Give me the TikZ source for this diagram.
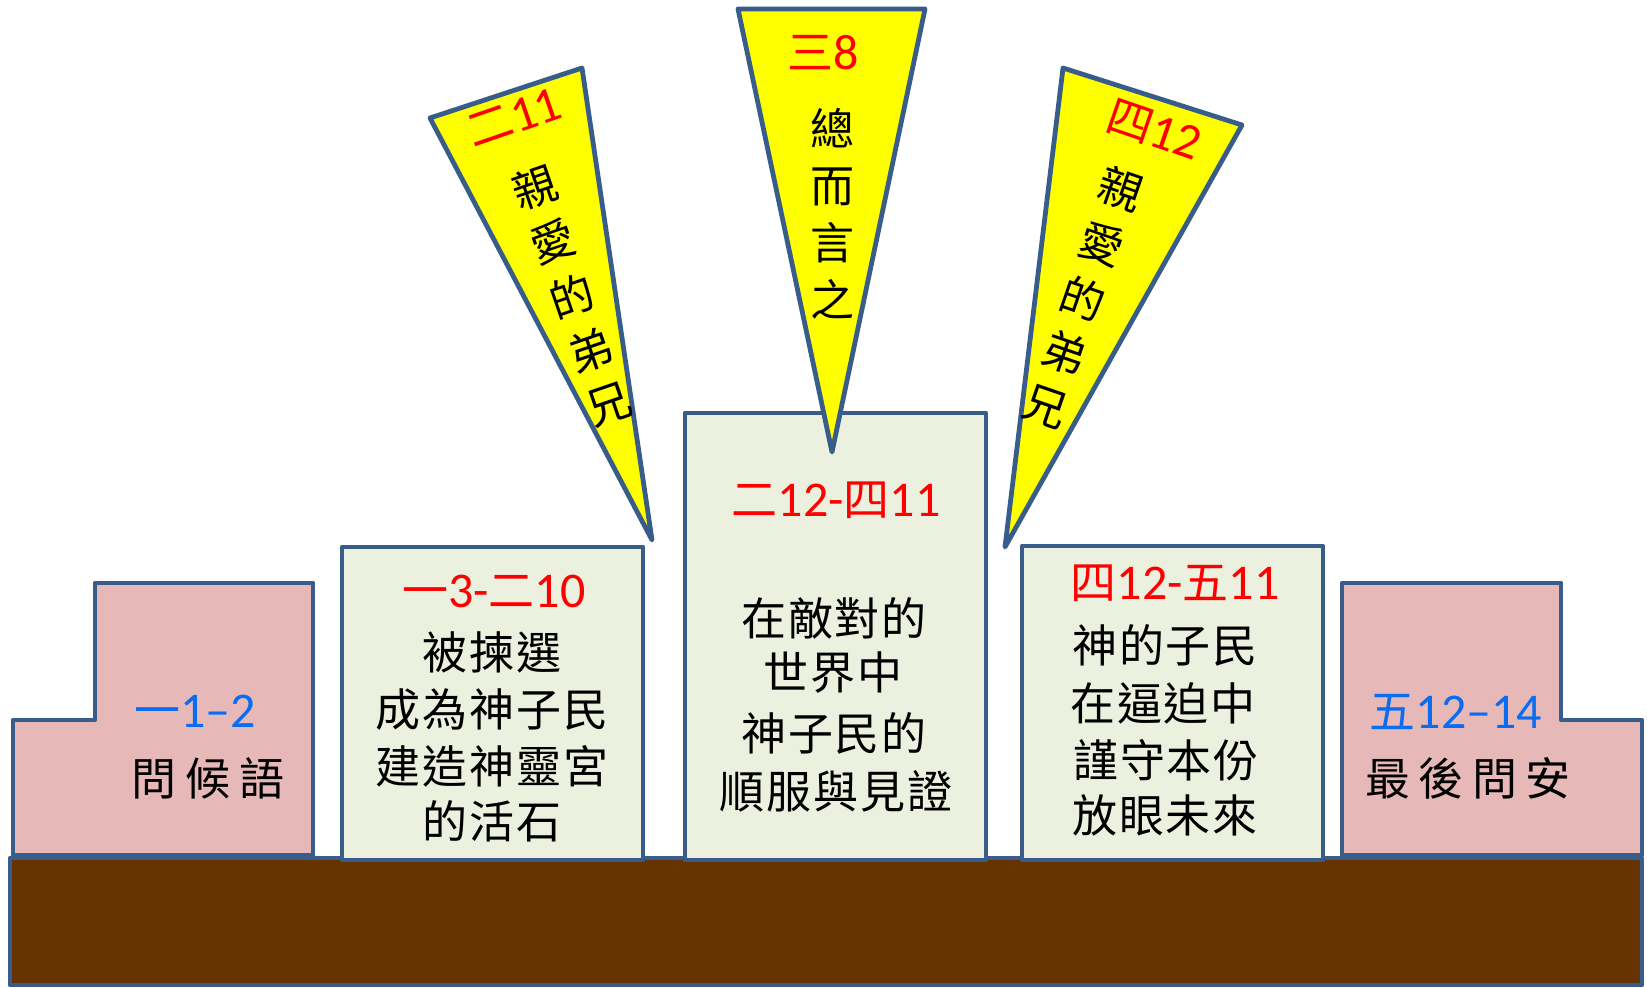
\documentclass[tikz,border=0pt]{standalone}
\usepackage{fontspec}
\newfontfamily\cjk{Noto Sans CJK TC}
\newfontfamily\cjkA[LetterSpace=4]{Noto Sans CJK TC}
\newfontfamily\cjkB[LetterSpace=19]{Noto Sans CJK TC}
\newfontfamily\lat{Carlito}
\newcommand{\dg}[1]{{\lat\fontsize{50}{50}\selectfont #1}}
\definecolor{edge}{HTML}{385D8A}
\definecolor{pinkfill}{HTML}{E6B9B8}
\definecolor{greenfill}{HTML}{EBF1DE}
\definecolor{ground}{HTML}{663300}
\definecolor{flagfill}{HTML}{FFFF00}
\definecolor{refred}{HTML}{FF0000}
\definecolor{refblue}{HTML}{0A6CF0}
\tikzset{
  frame/.style={draw=edge, line width=4.8pt, line join=round},
  pinkbox/.style={frame, fill=pinkfill},
  greenbox/.style={frame, fill=greenfill},
  groundbox/.style={frame, fill=ground},
  flag/.style={frame, fill=flagfill},
  txt/.style={inner sep=0pt, font=\cjkA\fontsize{45}{57}\selectfont},
  ptxt/.style={inner sep=0pt, font=\cjkB\fontsize{45}{57}\selectfont},
  redref/.style={inner sep=0pt, text=refred, font=\cjk\fontsize{46}{50}\selectfont},
  blueref/.style={inner sep=0pt, text=refblue, font=\cjk\fontsize{46}{50}\selectfont},
  ftxt/.style={inner sep=0pt, align=center, font=\cjk\fontsize{44}{57}\selectfont},
}
\begin{document}
\begin{tikzpicture}[x=1pt,y=-1pt]
\useasboundingbox (0,0) rectangle (1647,988);
% ground
\draw[groundbox] (10,858) rectangle (1642,985);
% boxes
\draw[pinkbox] (13,855) -- (13,720) -- (95,720) -- (95,583) -- (313,583) -- (313,855) -- cycle;
\draw[greenbox] (342,547) rectangle (643,860);
\draw[greenbox] (685,413) rectangle (986,860);
\draw[greenbox] (1022,546) rectangle (1323,860);
\draw[pinkbox] (1342,855) -- (1342,583) -- (1561,583) -- (1561,720) -- (1642,720) -- (1642,855) -- cycle;
% flags
\draw[flag] (430,118) -- (582,68) -- (652,540) -- cycle;
\draw[flag] (738,9) -- (925,9) -- (832,452) -- cycle;
\draw[flag] (1063,68) -- (1242,125) -- (1005,547) -- cycle;
% left pink
\node[blueref] (l1) at (195,711) {一\dg{1–2}};
\node[ptxt] (l2) at (208,778) {問候語};
% box 2
\node[redref] (b2r) at (494,591) {一\dg{3-}二\dg{10}};
\node[txt] (b2a) at (492,652) {被揀選};
\node[txt] (b2b) at (492,710) {成為神子民};
\node[txt] (b2c) at (492,766) {建造神靈宮};
\node[txt] (b2d) at (492,821) {的活石};
% box 3
\node[redref] (b3r) at (836,500) {二\dg{12-}四\dg{11}};
\node[txt] (b3a) at (834,618) {在敵對的};
\node[txt] (b3b) at (833,673) {世界中};
\node[txt] (b3c) at (834,733) {神子民的};
\node[txt] (b3d) at (836,791) {順服與見證};
% box 4
\node[redref] (b4r) at (1175,583) {四\dg{12-}五\dg{11}};
\node[txt] (b4a) at (1165,645) {神的子民};
\node[txt] (b4b) at (1163,703) {在逼迫中};
\node[txt] (b4c) at (1166,760) {謹守本份};
\node[txt] (b4d) at (1165,815) {放眼未來};
% right pink
\node[blueref] (r1) at (1456,712) {五\dg{12–14}};
\node[ptxt] (r2) at (1468,778) {最後問安};
% flag texts
\node[redref, rotate=19] (t1r) at (514,118) {二\dg{11}};
\foreach \c [count=\i from -2] in {親,愛,的,弟,兄}
  \node[ftxt, rotate=19] (t1-\i) at ({572+18.7*\i},{296+54.4*\i}) {\c};
\node[redref] (t2r) at (823,53) {三\dg{8}};
\node[ftxt] (t2) at (832,214) {總\\而\\言\\之};
\node[redref, rotate=-19] (t3r) at (1154,130) {四\dg{12}};
\foreach \c [count=\i from -2] in {親,愛,的,弟,兄}
  \node[ftxt, rotate=-19] (t3-\i) at ({1083-18.7*\i},{298+54.4*\i}) {\c};
\end{tikzpicture}
\end{document}
